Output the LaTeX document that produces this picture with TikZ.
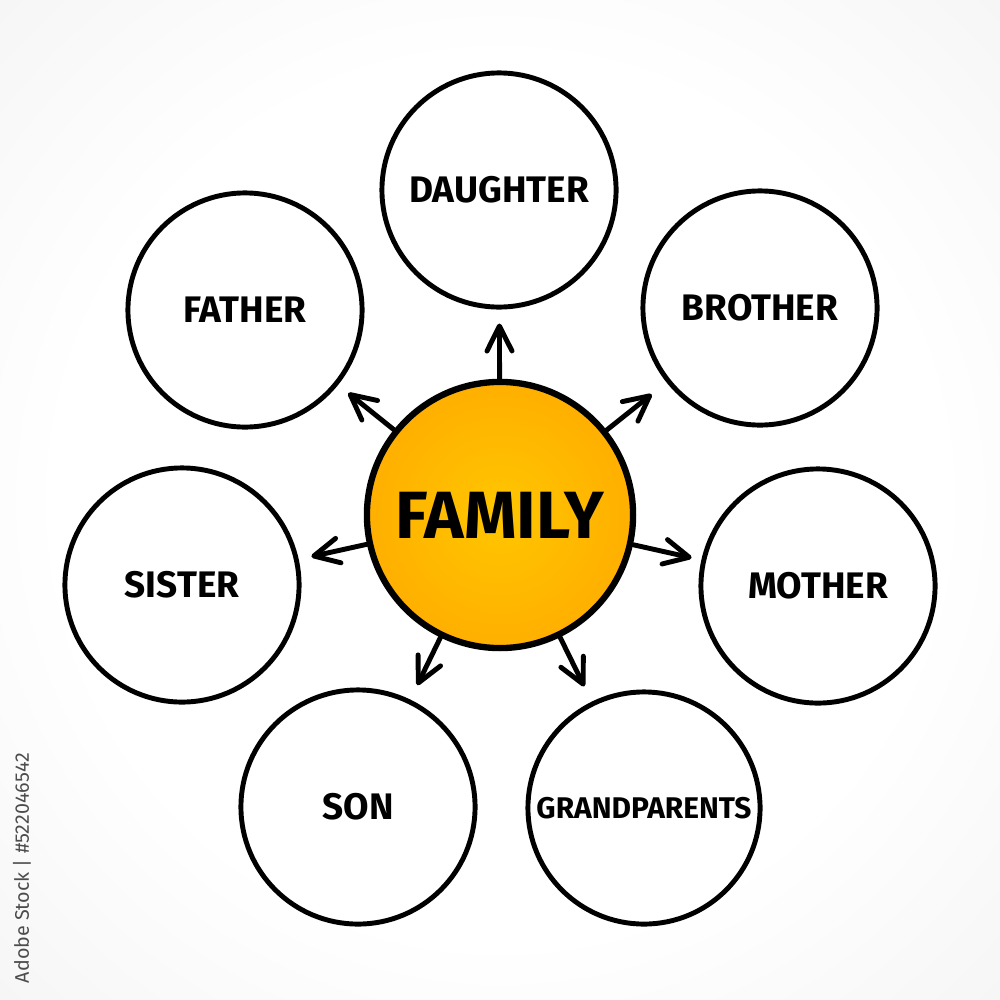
\documentclass[tikz,border=0pt]{standalone}
\usepackage{fontspec}
\setmainfont{Fira Sans}
\usetikzlibrary{arrows.meta}
\definecolor{famyellow}{RGB}{255,198,0}
\definecolor{fammid}{RGB}{255,180,0}
\definecolor{famorange}{RGB}{255,148,0}
\pgfdeclareradialshading{bgshade}{\pgfpoint{0bp}{0bp}}{color(0bp)=(white); color(22bp)=(white); color(71bp)=(black!13)}
\pgfdeclareradialshading{famshade}{\pgfpoint{0bp}{0bp}}{color(0bp)=(famyellow); color(20bp)=(fammid); color(50bp)=(famorange)}

\begin{document}
\begin{tikzpicture}[x=0.01cm,y=-0.01cm,
    member/.style={circle,draw,line width=1.4pt,minimum size=2.34cm,inner sep=0pt,
      font=\bfseries\fontsize{10.5}{12}\selectfont},
    hub/.style={circle,draw,line width=1.8pt,minimum size=2.66cm,inner sep=0pt,
      shading=famshade,font=\bfseries\fontsize{19}{22}\selectfont}]
  \shade[shading=bgshade] (0,0) rectangle (1000,1000);
  \useasboundingbox (0,0) rectangle (1000,1000);
  \draw
    (500,515) node[hub] (fam){FAMILY}
    (499,190) node[member] (dau){DAUGHTER}
    (760,308) node[member] (bro){BROTHER}
    (818,586) node[member] (mot){MOTHER}
    (644,808) node[member,minimum size=2.32cm,font=\bfseries\fontsize{8.5}{10}\selectfont] (gra){GRANDPARENTS}
    (358,807) node[member] (son){SON}
    (182,585) node[member] (sis){SISTER}
    (245,310) node[member] (fat){FATHER};
  \node[rotate=90,text=black!70,font=\fontsize{5.6}{7}\selectfont] (stockid) at (22,868) {Adobe Stock | \#522046542};
  \begin{scope}[line width=1.4pt,line cap=round,
      -{Straight Barb[length=2.5mm,width=2.5mm,line cap=round,line join=round]}]
    \draw[shorten >=1.4mm] (fam) to (dau);
    \draw[shorten >=1.9mm] (fam) to (bro);
    \draw[shorten >=1.0mm] (fam) to (mot);
    \draw[shorten >=1.7mm] (fam) to (gra);
    \draw[shorten >=1.6mm] (fam) to (son);
    \draw[shorten >=1.3mm] (fam) to (sis);
    \draw[shorten >=1.3mm] (fam) to (fat);
  \end{scope}
\end{tikzpicture}
\end{document}
